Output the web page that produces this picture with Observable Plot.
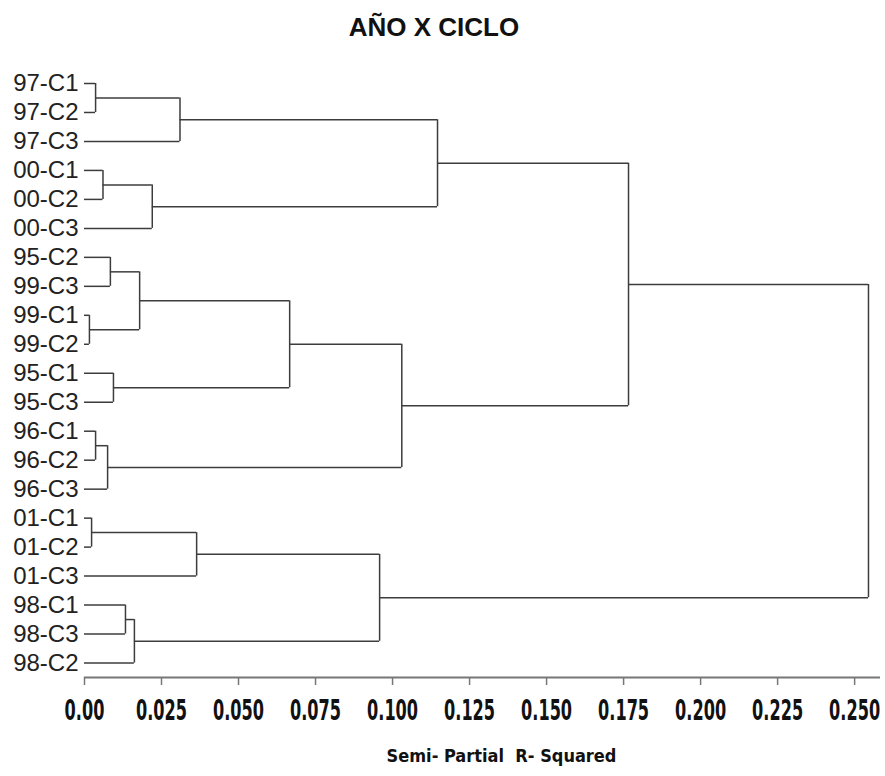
<!DOCTYPE html>
<html>
<head>
<meta charset="utf-8">
<script src="https://cdn.jsdelivr.net/npm/d3@7"></script>
<script src="https://cdn.jsdelivr.net/npm/@observablehq/plot@0.6"></script>
<style>
  html, body { margin: 0; padding: 0; background: #fff; }
  body { position: relative; width: 885px; height: 776px; overflow: hidden; }
  #title { position: absolute; left: 0; width: 868px; top: 12px; text-align: center;
    font-family: "Liberation Sans", Arial, sans-serif; font-weight: bold; font-size: 26px; color: #111; }
  #chart { position: absolute; left: 0; top: 60px; }
  #xlabel { position: absolute; left: 0; width: 1003px; top: 745px; text-align: center; white-space: pre;
    font-family: "DejaVu Sans Condensed", sans-serif; font-weight: bold; font-size: 18px; color: #111; }
  #chart g[aria-label="x-axis tick label"] text { font-family: "DejaVu Sans Condensed", sans-serif; font-weight: bold; font-size: 23px; fill: #111; }
</style>
</head>
<body>
<div id="title">AÑO X CICLO</div>
<div id="chart"></div>
<div id="xlabel">Semi- Partial  R- Squared</div>
<script>
// Leaves in dendrogram order (top to bottom)
const leaves = ["97-C1","97-C2","97-C3","00-C1","00-C2","00-C3","95-C2","99-C3","99-C1","99-C2",
  "95-C1","95-C3","96-C1","96-C2","96-C3","01-C1","01-C2","01-C3","98-C1","98-C3","98-C2"];
// Merge steps: cluster CLn joins mergeLeft[n-1] and mergeRight[n-1] at mergeHeight[n-1]
const mergeLeft  = ["97-C1","CL1","00-C1","CL3","CL2","95-C2","99-C1","CL6","95-C1","CL8",
  "96-C1","CL11","CL10","CL5","01-C1","CL15","98-C1","CL17","CL16","CL14"];
const mergeRight = ["97-C2","97-C3","00-C2","00-C3","CL4","99-C3","99-C2","CL7","95-C3","CL9",
  "96-C2","96-C3","CL12","CL13","01-C2","01-C3","98-C3","98-C2","CL18","CL19"];
const mergeHeight = [0.0036,0.031,0.006,0.022,0.1146,0.0084,0.0016,0.0179,0.0094,0.0666,
  0.0036,0.0075,0.103,0.1766,0.0023,0.0364,0.0133,0.0162,0.0958,0.2545];
const tickValues = [0,0.025,0.05,0.075,0.1,0.125,0.15,0.175,0.2,0.225,0.25];
const tickLabels = ["0.00","0.025","0.050","0.075","0.100","0.125","0.150","0.175","0.200","0.225","0.250"];

const pos = {};
leaves.forEach((l, i) => pos[l] = {y: i, h: 0});
const hsegs = [], vsegs = [];
mergeLeft.forEach((l, i) => {
  const a = pos[l], b = pos[mergeRight[i]], h = mergeHeight[i];
  hsegs.push({y: a.y, x1: a.h, x2: h});
  hsegs.push({y: b.y, x1: b.h, x2: h});
  vsegs.push({x: h, y1: a.y, y2: b.y});
  pos["CL" + (i + 1)] = {y: (a.y + b.y) / 2, h};
});
const leafData = leaves.map((l, i) => ({label: l, y: i}));

const lineColor = "#3c3c3c";
const chart = Plot.plot({
  width: 885,
  height: 670,
  marginLeft: 84,
  marginRight: 5,
  marginTop: 0,
  marginBottom: 53,
  x: {domain: [0, 0.2584]},
  y: {domain: [0, 20.5], range: [23, 617], axis: null},
  marks: [
    Plot.ruleY(hsegs, {y: "y", x1: "x1", x2: "x2", stroke: lineColor, strokeWidth: 1.5}),
    Plot.ruleX(vsegs, {x: "x", y1: "y1", y2: "y2", stroke: lineColor, strokeWidth: 1.5}),
    Plot.text(leafData, {x: () => 0, y: "y", text: "label", textAnchor: "end", dx: -6,
      fontSize: 24, fontFamily: "Liberation Sans, Arial, sans-serif", fill: "#222"}),
    Plot.ruleY([20.5], {stroke: "#777", strokeWidth: 2}),
    Plot.axisX(tickValues, {tickFormat: (d, i) => tickLabels[i], tickSize: 8, tickPadding: 15,
      stroke: "#777", strokeWidth: 1.5, label: null})
  ]
});
document.getElementById("chart").appendChild(chart);
// narrow, tall tick labels like the reference
chart.querySelectorAll('g[aria-label="x-axis tick label"] text').forEach(t => {
  const tr = t.getAttribute("transform") || "";
  t.setAttribute("transform", tr + " scale(0.78,1.2)");
});
</script>
</body>
</html>
